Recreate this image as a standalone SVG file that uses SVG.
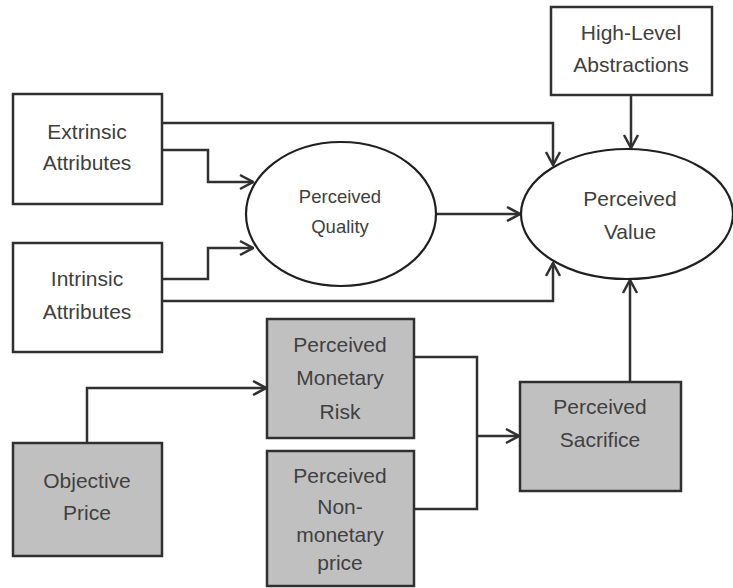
<svg xmlns="http://www.w3.org/2000/svg" width="733" height="588" viewBox="0 0 733 588">
<defs>
<style>
.box{fill:#ffffff;stroke:#303030;stroke-width:2.5}
.gray{fill:#c0c0c0;stroke:#303030;stroke-width:2.5}
.ell{fill:#ffffff;stroke:#202020;stroke-width:2.2}
.t{font-family:"Liberation Sans",Arial,sans-serif;font-size:21px;fill:#404040;text-anchor:middle}
.ts{font-size:18.5px}
.c{fill:none;stroke:#303030;stroke-width:2.5}
</style>
<marker id="ah" markerUnits="userSpaceOnUse" viewBox="0 0 16 18" refX="15" refY="9" markerWidth="16" markerHeight="18" orient="auto">
<path d="M2,2 L15,9 L2,16" fill="none" stroke="#303030" stroke-width="2.5"/>
</marker>
</defs>
<rect width="733" height="588" fill="#ffffff"/>
<g id="connectors">
<path class="c" d="M162,123 H553 V165" marker-end="url(#ah)"/>
<path class="c" d="M162,150 H208 V182 H253" marker-end="url(#ah)"/>
<path class="c" d="M162,279 H208 V248 H253" marker-end="url(#ah)"/>
<path class="c" d="M162,301 H553 V263" marker-end="url(#ah)"/>
<path class="c" d="M436,214 H520" marker-end="url(#ah)"/>
<path class="c" d="M631,95 V148" marker-end="url(#ah)"/>
<path class="c" d="M630,382 V280" marker-end="url(#ah)"/>
<path class="c" d="M87,443 V388 H266" marker-end="url(#ah)"/>
<path class="c" d="M414,357 H477 V509 H414"/>
<path class="c" d="M477,436 H519" marker-end="url(#ah)"/>
</g>
<g id="extrinsic">
<rect class="box" x="13" y="94" width="149" height="110"/>
<text class="t" x="87" y="139">Extrinsic</text>
<text class="t" x="87" y="170">Attributes</text>
</g>
<g id="intrinsic">
<rect class="box" x="13" y="243" width="149" height="109"/>
<text class="t" x="87" y="286">Intrinsic</text>
<text class="t" x="87" y="319">Attributes</text>
</g>
<g id="quality">
<ellipse class="ell" cx="341" cy="214" rx="95" ry="72"/>
<text class="t ts" x="340" y="203">Perceived</text>
<text class="t ts" x="340" y="233">Quality</text>
</g>
<g id="value">
<ellipse class="ell" cx="627" cy="214" rx="106" ry="65"/>
<text class="t" x="630" y="206">Perceived</text>
<text class="t" x="630" y="239">Value</text>
</g>
<g id="highlevel">
<rect class="box" x="551" y="7" width="161" height="88"/>
<text class="t" x="631" y="40">High-Level</text>
<text class="t" x="631" y="72">Abstractions</text>
</g>
<g id="objective">
<rect class="gray" x="13" y="443" width="149" height="113"/>
<text class="t" x="87" y="488">Objective</text>
<text class="t" x="87" y="520">Price</text>
</g>
<g id="monetary">
<rect class="gray" x="267" y="319" width="147" height="119"/>
<text class="t" x="340" y="352">Perceived</text>
<text class="t" x="340" y="385">Monetary</text>
<text class="t" x="340" y="419">Risk</text>
</g>
<g id="nonmonetary">
<rect class="gray" x="267" y="451" width="147" height="135"/>
<text class="t" x="340" y="483">Perceived</text>
<text class="t" x="340" y="514">Non-</text>
<text class="t" x="340" y="542">monetary</text>
<text class="t" x="340" y="570">price</text>
</g>
<g id="sacrifice">
<rect class="gray" x="520" y="382" width="161" height="109"/>
<text class="t" x="600" y="414">Perceived</text>
<text class="t" x="600" y="447">Sacrifice</text>
</g>
</svg>
